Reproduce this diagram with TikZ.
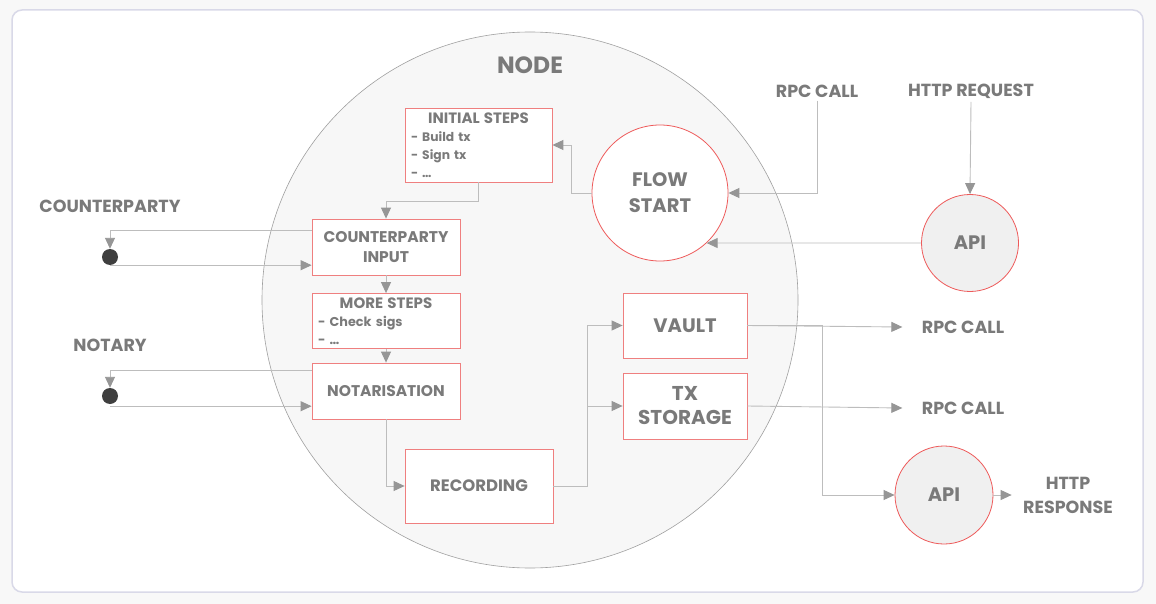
\documentclass[tikz,border=0pt]{standalone}
\usepackage{fontspec}
\setmainfont{Poppins}
\usetikzlibrary{positioning,shapes,arrows.meta,calc}
\definecolor{frame}{HTML}{D9D9E8}
\definecolor{page}{HTML}{F8F8F8}
\definecolor{disc}{HTML}{F7F7F7}
\definecolor{rim}{HTML}{A0A0A0}
\definecolor{boxred}{HTML}{EF7F7F}
\definecolor{circred}{HTML}{EE5A5A}
\definecolor{label}{HTML}{7A7A7A}
\definecolor{wire}{HTML}{BDBDBD}
\definecolor{tip}{HTML}{969696}
\definecolor{dot}{HTML}{3F3F3F}

\begin{document}
\begin{tikzpicture}[x=1pt, y=-1pt,
    every node/.style={text=label, font=\bfseries},
    stepbox/.style={draw=boxred, fill=white, line width=0.8pt, align=center, inner sep=2pt},
    service/.style={circle, draw=circred, fill=black!6, line width=0.8pt, inner sep=0pt},
    peer/.style={circle, fill=dot, inner sep=0pt, minimum size=16pt},
    outer/.style={font=\fontsize{17.5}{24}\selectfont\bfseries},
    arr/.style={wire, line width=0.9pt, -{Triangle[length=11pt, width=10pt, color=tip]}}]
    % Page and frame
    \fill[page] (0,0) rectangle (1156,604);
    \draw[frame, fill=white, line width=1.5pt, rounded corners=10pt] (12,10) rectangle (1143,592);

    % The node itself
    \node[circle, draw=rim, fill=disc, line width=0.6pt, minimum size=536pt] (nodedisc) at (530,300) {};
    \node[font=\fontsize{23.5}{26}\selectfont\bfseries] (nodetitle) at (530,65) {NODE};

    % Flow steps
    \node[stepbox, minimum width=147pt, minimum height=74pt, text width=135pt, align=left,
          font=\fontsize{12.3}{18}\selectfont\bfseries] (init) at (478.5,145)
        {\centering{\fontsize{15}{18}\selectfont INITIAL STEPS}\par\raggedright - Build tx\par - Sign tx\par - \dots};
    \node[stepbox, minimum width=148pt, minimum height=56pt, font=\fontsize{15.5}{20}\selectfont\bfseries] (cpin) at (386,247) {COUNTERPARTY\\INPUT};
    \node[stepbox, minimum width=148pt, minimum height=55pt, text width=136pt, align=left,
          font=\fontsize{12.8}{18}\selectfont\bfseries] (more) at (386,321)
        {\centering{\fontsize{15}{18}\selectfont MORE STEPS}\par\raggedright - Check sigs\par - \dots};
    \node[stepbox, minimum width=148pt, minimum height=56pt, font=\fontsize{15.5}{20}\selectfont\bfseries] (notar) at (386,391) {NOTARISATION};
    \node[stepbox, minimum width=148pt, minimum height=74pt, font=\fontsize{16.5}{20}\selectfont\bfseries] (rec) at (479,486) {RECORDING};
    \node[stepbox, minimum width=124pt, minimum height=65pt, font=\fontsize{19.5}{24}\selectfont\bfseries] (vault) at (685,325.5) {VAULT};
    \node[stepbox, minimum width=124pt, minimum height=66pt, font=\fontsize{20}{24}\selectfont\bfseries] (txst) at (685,406) {TX\\STORAGE};

    % Entry points
    \node[service, fill=white, minimum size=136pt, font=\fontsize{19.5}{26}\selectfont\bfseries, align=center] (flow) at (660,193) {FLOW\\START};
    \node[service, minimum size=97pt, font=\fontsize{19.5}{22}\selectfont\bfseries] (apiin) at (970,243) {API};
    \node[service, minimum size=98pt, font=\fontsize{19.5}{22}\selectfont\bfseries] (apiout) at (944,495) {API};

    % Outside labels
    \node[outer] (rpcin) at (817,91) {RPC CALL};
    \node[outer] (httpin) at (971,91) {HTTP REQUEST};
    \node[outer] (cplabel) at (110,206) {COUNTERPARTY};
    \node[outer] (notlabel) at (110,345) {NOTARY};
    \node[outer] (rpcvault) at (963,327) {RPC CALL};
    \node[outer] (rpctx) at (963,408) {RPC CALL};
    \node[outer, align=center] (httpout) at (1068,495) {HTTP\\RESPONSE};

    % Counterparty and notary
    \node[peer] (cpdot) at (110,257) {};
    \node[peer] (notdot) at (110,396) {};

    % Flow connectors
    \draw[arr] (flow.west) -- ++(-20,0) |- (init.east);
    \draw[arr] (init.south) -- ++(0,19) -| (cpin.north);
    \draw[arr] ([yshift=-12pt]cpin.north west) -| (cpdot.north);
    \draw[arr] (cpdot.south) -- (cpdot.south -| cpin.west);
    \draw[arr] (cpin.south) -- (more.north);
    \draw[arr] (more.south) -- (notar.north);
    \draw[arr] ([yshift=-8pt]notar.north west) -| (notdot.north);
    \draw[arr] ([yshift=-2pt]notdot.south) -- ([yshift=-2pt]notdot.south -| notar.west);
    \draw[arr] (notar.south) |- (rec.west);
    \draw[arr] (rec.east) -- ++(34,0) |- (vault.west);
    \draw[arr] (rec.east) -- ++(34,0) |- (txst.west);

    % Calls in and out
    \draw[arr] (rpcin.south) |- (flow.east);
    \draw[arr] (httpin.south) -- (apiin.north);
    \draw[arr] (apiin.west) -- (flow.-47);
    \draw[arr] (vault.east) -- ([xshift=-16pt]rpcvault.west);
    \draw[arr] (txst.east) -- ([xshift=-16pt]rpctx.west);
    \draw[arr] (vault.east) -- ++(75,0) |- (apiout.west);
    \draw[arr] (apiout.east) -- ([xshift=-8pt]httpout.west);
\end{tikzpicture}
\end{document}
